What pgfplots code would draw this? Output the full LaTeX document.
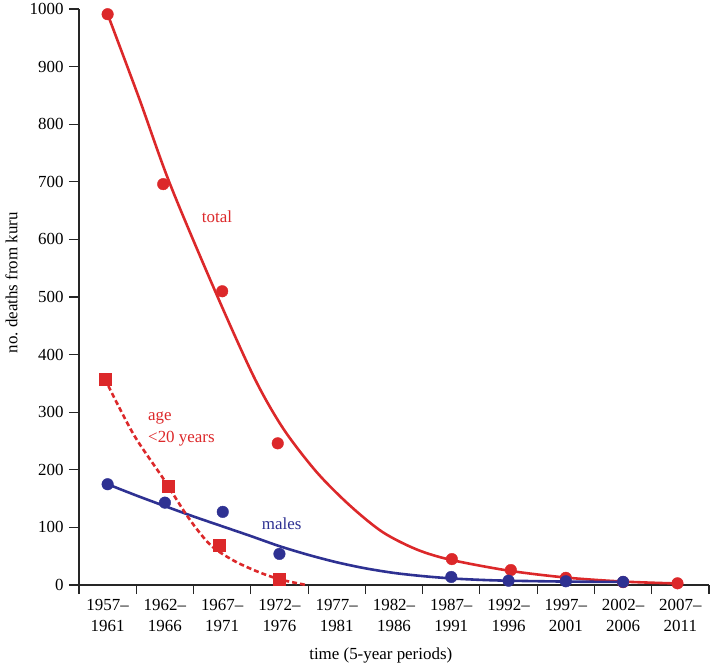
\documentclass[border=0pt]{standalone}
\usepackage{fontspec}
\setmainfont{Liberation Serif}
\usepackage{pgfplots}
\pgfplotsset{compat=1.18}
\definecolor{kred}{RGB}{220,40,42}
\definecolor{kblue}{RGB}{46,49,146}
\begin{document}
\begin{tikzpicture}[font=\fontsize{17}{20.5}\selectfont]
\begin{axis}[
  name=ax,
  scale only axis,
  width=630bp, height=576bp,
  xmin=-0.5, xmax=10.5, ymin=0, ymax=1000,
  axis x line*=bottom, axis y line*=left,
  axis line style={line width=1.1bp, black!85},
  ytick={0,100,...,1000},
  xtick={0,...,10},
  xticklabels={1957–\\1961,1962–\\1966,1967–\\1971,1972–\\1976,1977–\\1981,1982–\\1986,1987–\\1991,1992–\\1996,1997–\\2001,2002–\\2006,2007–\\2011},
  xticklabel style={align=center, yshift=-1bp},
  minor xtick={-0.5,0.5,...,10.5},
  major x tick style={draw=none},
  minor x tick style={draw=black!85, line width=1.1bp},
  tick align=outside,
  major tick length=10bp, minor tick length=9bp,
  y tick style={line width=1.1bp, black!85},
  yticklabel style={xshift=-2bp},
  /pgf/number format/assume math mode=true,
  /pgf/number format/1000 sep={},
  xlabel={time (5-year periods)},
  ylabel={no.\ deaths from kuru},
  xlabel style={at={(axis description cs:0.479,-0.1215)}, anchor=center},
  ylabel style={at={(axis description cs:-0.107,0.525)}, anchor=center},
  clip=false,
]
% fitted curves
\addplot[kred, line width=2.6bp, smooth] coordinates {
 (0,991) (0.55,845) (1.09,696) (1.9,505) (2.57,358) (3.07,271) (3.65,196) (4.23,138) (4.8,92) (5.39,62) (5.98,44) (7,25) (8,13) (9,6) (10,2.5)
};
\addplot[kblue, line width=2.6bp, smooth] coordinates {
 (0,175) (0.5,155.5) (1,137) (1.5,119) (2,102) (2.5,85) (3,67.5) (3.5,52.5) (4,39.5) (4.5,29) (5,21) (5.5,15.5) (6,11.5) (6.5,9) (7,7.5) (8,6) (9,5.3)
};
\addplot[kred, line width=2.6bp, smooth, dash pattern=on 5bp off 3bp] coordinates {
 (-0.05,358) (0.45,262) (0.97,185) (1.41,117) (1.79,70) (2.19,43) (2.6,24) (3.0,10) (3.47,0)
};
% data points
\addplot[only marks, mark=*, mark size=5.8bp, kred, mark options={draw=kred, fill=kred}] coordinates {
 (0,991) (0.97,696) (2,510) (2.97,246) (6.01,45) (7.04,26) (8,12.5) (9,5) (9.95,3)
};
\addplot[only marks, mark=*, mark size=5.8bp, kblue, mark options={draw=kblue, fill=kblue}] coordinates {
 (0,175) (1,143) (2.01,127) (3,54) (6,14) (7,7.5) (8,6.5) (9,5.5)
};
\addplot[only marks, mark=square*, mark size=6bp, kred, mark options={draw=kred, fill=kred}] coordinates {
 (-0.05,358) (1.05,172) (1.94,70) (3,10)
};
\node[kred, anchor=base] at (axis cs:1.91,629) {total};
\node[kred, anchor=base west, inner sep=0pt] at (axis cs:0.705,286) {age};
\node[kred, anchor=base west, inner sep=0pt] at (axis cs:0.705,247) {<20 years};
\node[kblue, anchor=base] at (axis cs:3.04,97) {males};
\end{axis}
\path ([xshift=-79bp]ax.south west) rectangle ([xshift=3bp]ax.north east);
\end{tikzpicture}
\end{document}
